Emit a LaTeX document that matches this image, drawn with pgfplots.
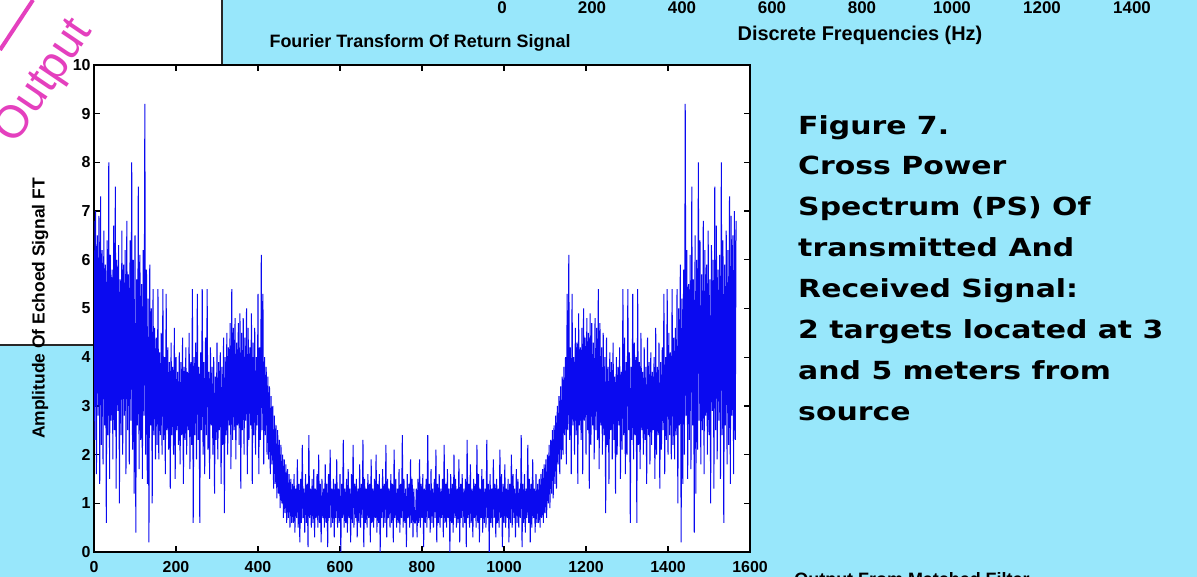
\documentclass[border=0pt]{standalone}
\usepackage{fontspec}
\setmainfont{Liberation Sans}
\newfontfamily\rtextfont{DejaVu Sans}
\usepackage{pgfplots}
\pgfplotsset{compat=1.18}
\definecolor{bgcyan}{RGB}{152,231,251}
\definecolor{sigblue}{RGB}{10,10,240}
\definecolor{pinkc}{RGB}{228,64,190}
\definecolor{boxline}{RGB}{40,40,40}
\begin{document}
\begin{tikzpicture}[x=1bp,y=1bp]
\useasboundingbox (0,0) rectangle (1197,577);
\fill[bgcyan] (0,0) rectangle (1197,577);
\fill[white] (0,232) rectangle (222,577);
\draw[boxline, line width=1.5bp] (0,232) -- (222,232) -- (222,577);
\draw[pinkc, line width=4bp] (0,527) -- (33,577);
\node[rotate=56, text=pinkc, font=\fontsize{46}{46}\selectfont] at (45,495) {Output};
\begin{axis}[
  at={(94bp,25bp)}, anchor=south west, scale only axis,
  width=656bp, height=487bp,
  xmin=0, xmax=1600, ymin=0, ymax=10,
  xtick={0,200,...,1600}, ytick={0,1,...,10},
  tick align=inside, major tick length=6bp,
  axis line style={line width=1.3bp, black},
  tick style={line width=1.3bp, black},
  axis background/.style={fill=white},
  /pgf/number format/assume math mode=true,
  /pgf/number format/set thousands separator={},
  tick label style={font=\fontsize{16}{16}\selectfont\bfseries},
  xticklabel style={anchor=base, yshift=-20.5bp},
  title={Fourier Transform Of Return Signal},
  title style={font=\fontsize{18}{18}\selectfont\bfseries, at={(axis description cs:0.497,1)}, anchor=base, yshift=12bp},
  ylabel={Amplitude Of Echoed Signal FT},
  every axis y label/.style={at={(axis description cs:-0.082,0.5)}, rotate=90, anchor=center, font=\fontsize{17.5}{17.5}\selectfont\bfseries},
]
\addplot[color=sigblue, line width=1.0bp] table[x expr=\coordindex*2, y index=0, row sep=\\] {
y\\
6.8\\2.3\\7.0\\1.6\\6.5\\2.8\\6.9\\1.4\\7.3\\2.2\\6.2\\1.8\\6.6\\2.6\\5.9\\0.6\\6.4\\2.4\\8.0\\1.5\\
6.1\\2.7\\5.8\\1.9\\6.7\\2.5\\7.5\\1.3\\6.0\\2.9\\6.3\\1.0\\5.6\\2.4\\6.6\\2.0\\5.9\\2.8\\6.2\\1.6\\
6.8\\2.5\\5.7\\1.8\\6.4\\2.7\\8.0\\2.1\\6.0\\1.2\\6.5\\0.4\\5.6\\2.6\\7.5\\1.7\\6.1\\2.3\\5.5\\1.5\\
6.2\\2.8\\9.2\\2.0\\5.8\\1.4\\5.2\\0.2\\5.9\\2.6\\5.0\\1.0\\5.4\\2.4\\4.6\\1.9\\
4.4\\2.2\\5.4\\1.9\\4.1\\2.4\\4.5\\2.0\\5.4\\2.3\\4.0\\1.6\\5.3\\2.5\\4.2\\2.1\\3.9\\1.3\\4.3\\2.4\\
3.8\\2.0\\4.6\\1.5\\4.0\\2.5\\3.7\\2.2\\4.1\\1.8\\3.9\\2.4\\4.4\\1.4\\3.8\\2.3\\4.2\\2.0\\3.7\\2.5\\
4.5\\1.7\\3.9\\2.2\\5.4\\0.6\\4.0\\2.4\\4.3\\1.9\\5.3\\2.3\\3.8\\0.6\\4.1\\2.5\\5.4\\2.0\\3.9\\1.6\\
4.4\\2.4\\5.4\\2.1\\3.7\\1.5\\4.2\\2.6\\3.8\\2.0\\4.0\\1.2\\3.6\\2.3\\4.3\\1.9\\3.9\\2.5\\4.1\\1.4\\
3.8\\2.2\\4.4\\0.8\\4.0\\2.4\\4.5\\2.0\\4.2\\2.6\\4.7\\1.7\\5.4\\2.3\\4.6\\2.5\\4.8\\1.9\\4.3\\2.6\\
4.7\\2.2\\4.9\\1.3\\4.5\\2.5\\4.8\\2.0\\4.4\\2.7\\5.0\\1.6\\4.6\\2.3\\4.2\\2.6\\4.9\\1.4\\4.3\\2.4\\
4.6\\2.0\\4.0\\2.6\\5.3\\1.6\\4.2\\2.3\\6.1\\2.5\\5.3\\1.8\\4.0\\2.4\\3.8\\2.0\\
3.6\\1.9\\3.4\\1.6\\3.2\\1.8\\3.0\\1.3\\2.8\\1.4\\2.6\\1.1\\2.5\\1.2\\2.3\\0.9\\2.2\\1.0\\2.0\\0.7\\1.9\\0.8\\1.8\\0.6\\1.7\\0.7\\1.6\\0.5\\1.5\\0.6\\
1.4\\0.6\\1.6\\0.4\\1.3\\0.7\\1.9\\0.5\\1.4\\0.2\\1.5\\0.6\\2.2\\0.7\\1.3\\0.4\\1.6\\0.6\\1.4\\0.1\\
2.4\\0.7\\1.3\\0.5\\1.5\\0.6\\1.7\\0.3\\1.3\\0.7\\1.6\\0.5\\2.0\\0.6\\1.4\\0.2\\1.5\\0.7\\1.3\\0.5\\
1.8\\0.6\\1.4\\0.1\\1.6\\0.7\\2.1\\0.5\\1.3\\0.6\\1.5\\0.3\\1.4\\0.7\\1.9\\0.5\\1.3\\0.6\\1.6\\0.0\\
1.4\\0.7\\2.3\\0.5\\1.3\\0.6\\1.5\\0.4\\1.7\\0.7\\1.3\\0.2\\1.6\\0.6\\2.2\\0.5\\1.4\\0.7\\1.5\\0.3\\
1.3\\0.6\\1.8\\0.5\\1.4\\0.7\\2.3\\0.1\\1.5\\0.6\\1.3\\0.5\\1.6\\0.7\\1.4\\0.2\\1.9\\0.6\\1.3\\0.5\\
1.5\\0.7\\2.0\\0.4\\1.4\\0.6\\1.6\\0.0\\1.3\\0.7\\1.7\\0.5\\1.4\\0.6\\2.2\\0.3\\1.5\\0.7\\1.3\\0.5\\
1.6\\0.6\\1.4\\0.2\\2.1\\0.7\\1.5\\0.5\\1.3\\0.6\\1.7\\0.4\\1.4\\0.7\\2.4\\0.5\\1.5\\0.6\\1.3\\0.1\\
1.6\\0.7\\1.4\\0.5\\1.9\\0.6\\1.5\\0.3\\1.3\\0.6\\
0.6\\1.3\\0.3\\1.5\\0.6\\1.9\\0.5\\1.4\\0.7\\1.6\\
0.1\\1.3\\0.6\\1.5\\0.5\\2.4\\0.7\\1.4\\0.4\\1.7\\0.6\\1.3\\0.5\\1.5\\0.7\\2.1\\0.2\\1.4\\0.6\\1.6\\
0.5\\1.3\\0.7\\1.5\\0.3\\2.2\\0.6\\1.4\\0.5\\1.7\\0.7\\1.3\\0.0\\1.6\\0.6\\1.4\\0.4\\2.0\\0.7\\1.5\\
0.5\\1.3\\0.6\\1.9\\0.2\\1.4\\0.7\\1.6\\0.5\\1.3\\0.6\\1.5\\0.1\\2.3\\0.7\\1.4\\0.5\\1.8\\0.6\\1.3\\
0.3\\1.5\\0.7\\1.4\\0.5\\2.2\\0.6\\1.6\\0.2\\1.3\\0.7\\1.7\\0.4\\1.5\\0.6\\1.3\\0.5\\2.3\\0.7\\1.4\\
0.0\\1.6\\0.6\\1.3\\0.5\\1.9\\0.7\\1.4\\0.3\\1.5\\0.6\\1.3\\0.5\\2.1\\0.7\\1.6\\0.1\\1.4\\0.6\\1.8\\
0.5\\1.3\\0.7\\1.5\\0.2\\1.4\\0.6\\2.0\\0.5\\1.6\\0.7\\1.3\\0.3\\1.7\\0.6\\1.5\\0.5\\1.3\\0.7\\2.4\\
0.1\\1.4\\0.6\\1.6\\0.4\\1.3\\0.7\\2.2\\0.6\\1.5\\0.2\\1.4\\0.5\\1.9\\0.7\\1.3\\0.4\\1.6\\0.6\\1.4\\
0.6\\1.5\\0.5\\1.6\\0.7\\1.7\\0.6\\1.8\\0.8\\1.9\\0.7\\2.0\\1.0\\2.2\\0.9\\2.3\\1.2\\2.5\\1.1\\2.6\\1.4\\2.8\\1.3\\3.0\\1.8\\3.2\\1.6\\3.4\\1.9\\3.6\\
2.0\\3.8\\2.4\\4.0\\1.8\\5.3\\2.5\\6.1\\2.3\\4.2\\1.6\\5.3\\2.6\\4.0\\2.0\\4.6\\
2.4\\4.3\\1.4\\4.9\\2.6\\4.2\\2.3\\4.6\\1.6\\5.0\\2.7\\4.4\\2.0\\4.8\\2.5\\4.5\\1.3\\4.9\\2.2\\4.7\\
2.6\\4.3\\1.9\\4.8\\2.5\\4.6\\2.3\\5.4\\1.7\\4.7\\2.6\\4.2\\2.0\\4.5\\2.4\\4.0\\0.8\\4.4\\2.2\\3.8\\
1.4\\4.1\\2.5\\3.9\\1.9\\4.3\\2.3\\3.6\\1.2\\4.0\\2.0\\3.8\\2.6\\4.2\\1.5\\3.7\\2.1\\5.4\\2.4\\4.4\\
1.6\\3.9\\2.0\\5.4\\2.5\\4.1\\0.6\\3.8\\2.3\\5.3\\1.9\\4.3\\2.4\\4.0\\0.6\\5.4\\2.2\\3.9\\1.7\\4.5\\
2.5\\3.7\\2.0\\4.2\\2.3\\3.8\\1.4\\4.4\\2.4\\3.9\\1.8\\4.1\\2.2\\3.7\\2.5\\4.0\\1.5\\4.6\\2.0\\3.8\\
2.4\\4.3\\1.3\\3.9\\2.1\\4.2\\2.5\\5.3\\1.6\\4.0\\2.3\\5.4\\2.0\\4.5\\2.4\\4.1\\1.9\\5.4\\2.2\\4.4\\
1.9\\4.6\\2.4\\5.4\\1.0\\5.0\\2.6\\5.9\\0.2\\5.2\\1.4\\5.8\\2.0\\9.2\\2.8\\6.2\\
1.5\\5.5\\2.3\\6.1\\1.7\\7.5\\2.6\\5.6\\0.4\\6.5\\1.2\\6.0\\2.1\\8.0\\2.7\\6.4\\1.8\\5.7\\2.5\\6.8\\
1.6\\6.2\\2.8\\5.9\\2.0\\6.6\\2.4\\5.6\\1.0\\6.3\\2.9\\6.0\\1.3\\7.5\\2.5\\6.7\\1.9\\5.8\\2.7\\6.1\\
1.5\\8.0\\2.4\\6.4\\0.6\\5.9\\2.6\\6.6\\1.8\\6.2\\2.2\\7.3\\1.4\\6.9\\2.8\\6.5\\1.6\\7.0\\2.3\\6.8\\
};
\end{axis}
\begin{axis}[
  at={(502bp,563.5bp)}, anchor=south west, scale only axis,
  width=720bp, height=10bp,
  xmin=0, xmax=1600, ymin=0, ymax=1,
  xtick={0,200,...,1400}, ytick=\empty,
  axis line style={draw=none}, tick style={draw=none},
  /pgf/number format/assume math mode=true,
  /pgf/number format/set thousands separator={},
  tick label style={font=\fontsize{17}{17}\selectfont\bfseries},
  xticklabel style={anchor=base, yshift=0bp},
]
\addplot[draw=none] coordinates {(0,0)};
\end{axis}
\node[font=\fontsize{20}{20}\selectfont\bfseries] at (860,542) {Discrete Frequencies (Hz)};
\node[anchor=north west, inner sep=0, align=left, xscale=1.2, transform shape, font=\rtextfont\bfseries\fontsize{25}{41}\selectfont] at (798,462)
  {Figure 7.\\Cross Power\\Spectrum (PS) Of\\transmitted And\\Received Signal:\\2 targets located at 3\\and 5 meters from\\source};
\node[anchor=north, inner sep=0, font=\fontsize{18}{18}\selectfont\bfseries] at (912,5) {Output From Matched Filter};
\end{tikzpicture}
\end{document}
